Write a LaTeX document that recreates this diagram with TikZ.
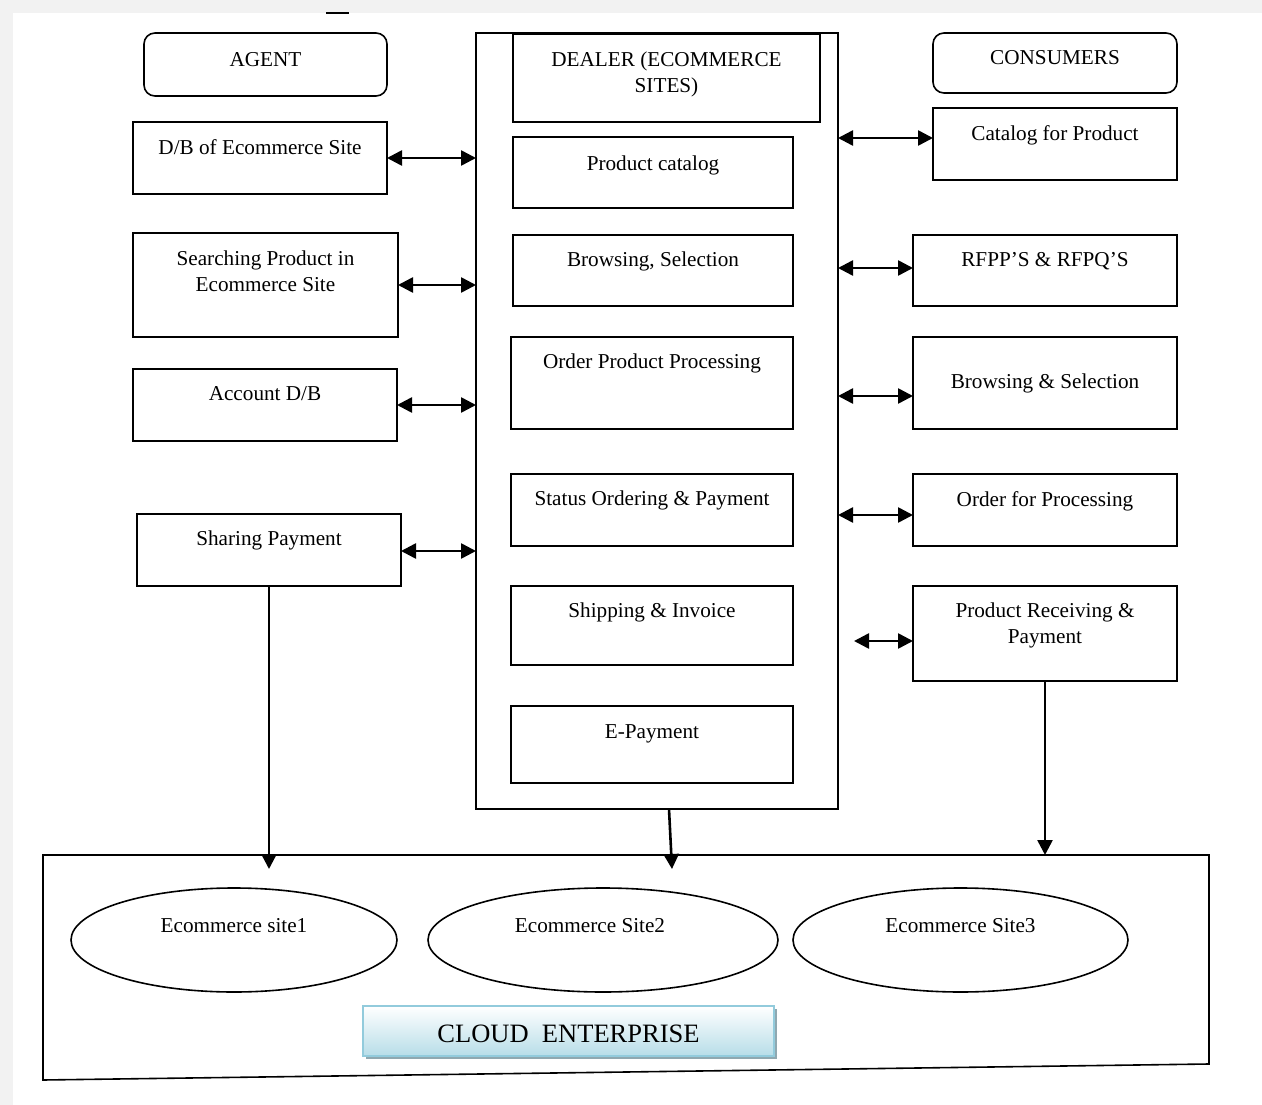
\documentclass[tikz,border=0pt]{standalone}
\usepackage{fontspec}
\setmainfont{Liberation Serif}
\usetikzlibrary{arrows.meta,shapes.geometric,shadows}
\definecolor{pagegray}{RGB}{242,242,242}
\definecolor{cloudbd}{RGB}{146,203,220}
\definecolor{cloudbot}{RGB}{183,221,232}
\definecolor{cloudsh}{RGB}{143,168,176}
\tikzset{
 boxst/.style={draw, line width=1.6pt, rectangle, outer sep=0pt, inner sep=0pt},
 rboxst/.style={boxst, rounded corners=11pt},
 txt/.style={anchor=north, inner sep=0pt, align=center, font=\fontsize{21.2}{26}\selectfont},
 dbl/.style={line width=2.6pt, {Triangle[length=15pt,width=15pt]}-{Triangle[length=15pt,width=15pt]}},
 arr/.style={line width=2.6pt, -{Triangle[length=15pt,width=15pt]}},
 site/.style={draw, ellipse, line width=1.6pt, outer sep=0pt, inner sep=0pt},
 cloudst/.style={draw=cloudbd, line width=2pt, rectangle, outer sep=0pt, inner sep=0pt,
   top color=white, bottom color=cloudbot,
   drop shadow={shadow xshift=3pt, shadow yshift=-3pt, fill=cloudsh, opacity=1}},
}
% #1 style, #2 name, #3 x1, #4 y1, #5 x2, #6 y2, #7 text top y, #8 text
\newcommand{\bx}[8][boxst]{%
 \node[#1, minimum width={(#5-#3)*1pt}, minimum height={(#6-#4)*1pt}] (#2) at ({(#3+#5)/2},{(#4+#6)/2}) {};
 \node[txt] (#2-t) at ({(#3+#5)/2},#7) {#8};
}
\begin{document}
\begin{tikzpicture}[x={(1pt,0pt)}, y={(0pt,-1pt)}]
\useasboundingbox (0,0) rectangle (1262,1105);
\fill[pagegray] (0,0) rectangle (1262,13);
\fill[pagegray] (0,0) rectangle (13,1105);
\draw[line width=1.6pt] (326,13) -- (349,13);

% dealer column
\node[boxst, minimum width=362pt, minimum height=776pt] (dealer) at (657,421) {};

\bx[rboxst]{agent}{144}{33}{387}{96}{52}{AGENT}
\bx{dealerhd}{513}{34}{820}{122}{52}{DEALER (ECOMMERCE\\SITES)}
\bx[rboxst]{consumers}{933}{33}{1177}{93}{50}{CONSUMERS}

\bx{dbes}{133}{122}{387}{194}{139}{D/B of Ecommerce Site}
\bx{pcat}{513}{137}{793}{208}{156}{Product catalog}
\bx{catp}{933}{108}{1177}{180}{125}{Catalog for Product}

\bx{search}{133}{233}{398}{337}{251}{Searching Product in\\Ecommerce Site}
\bx{brsel}{513}{235}{793}{306}{252}{Browsing, Selection}
\bx{rfpp}{913}{235}{1177}{306}{252}{RFPP’S \& RFPQ’S}

\bx{acct}{133}{369}{397}{441}{386}{Account D/B}
\bx{opp}{511}{337}{793}{429}{354}{Order Product Processing}
\bx{brs}{913}{337}{1177}{429}{374}{Browsing \& Selection}

\bx{share}{137}{514}{401}{586}{531}{Sharing Payment}
\bx{status}{511}{474}{793}{546}{491}{Status Ordering \& Payment}
\bx{ofp}{913}{474}{1177}{546}{491}{Order for Processing}

\bx{ship}{511}{586}{793}{665}{603}{Shipping \& Invoice}
\bx{prp}{913}{586}{1177}{681}{603}{Product Receiving \&\\Payment}

\bx{epay}{511}{706}{793}{783}{724}{E-Payment}

% horizontal double arrows
\draw[dbl] (dbes.east |- 0,158) -- (dealer.west |- 0,158);
\draw[dbl] (search.east |- 0,285) -- (dealer.west |- 0,285);
\draw[dbl] (acct.east |- 0,405) -- (dealer.west |- 0,405);
\draw[dbl] (share.east |- 0,551) -- (dealer.west |- 0,551);

\draw[dbl] (dealer.east |- 0,138) -- (catp.west |- 0,138);
\draw[dbl] (dealer.east |- 0,268) -- (rfpp.west |- 0,268);
\draw[dbl] (dealer.east |- 0,396) -- (brs.west |- 0,396);
\draw[dbl] (dealer.east |- 0,515) -- (ofp.west |- 0,515);
\coordinate (prfree) at (854,641);
\draw[dbl] (prfree) -- (prp.west |- prfree);

% enterprise
\draw[line width=1.6pt] (43,855) -- (1209,855) -- (1209,1064) -- (43,1080) -- cycle;
\coordinate (entA) at (269,869);
\coordinate (entB) at (672,869);
\coordinate (entC) at (1045,855);
\draw[arr] (share.south) -- (entA);
\draw[arr] (dealer.south -| 669,0) -- (entB);
\draw[arr] (prp.south) -- (entC);

\node[site, minimum width=326pt, minimum height=104pt] (s1) at (234,940) {};
\node[txt] (s1-t) at (234,918) {Ecommerce site1};
\node[site, minimum width=350pt, minimum height=104pt] (s2) at (603,940) {};
\node[txt] (s2-t) at (590,918) {Ecommerce Site2};
\node[site, minimum width=335pt, minimum height=104pt] (s3) at (960.5,940) {};
\node[txt] (s3-t) at (960.5,918) {Ecommerce Site3};

\node[cloudst, minimum width=411pt, minimum height=50pt] (cloud) at (568.5,1031) {};
\node[anchor=north, inner sep=0pt, font=\fontsize{26.5}{32}\selectfont] (cloud-t) at (568.5,1025) {CLOUD\ \ ENTERPRISE};
\end{tikzpicture}
\end{document}
